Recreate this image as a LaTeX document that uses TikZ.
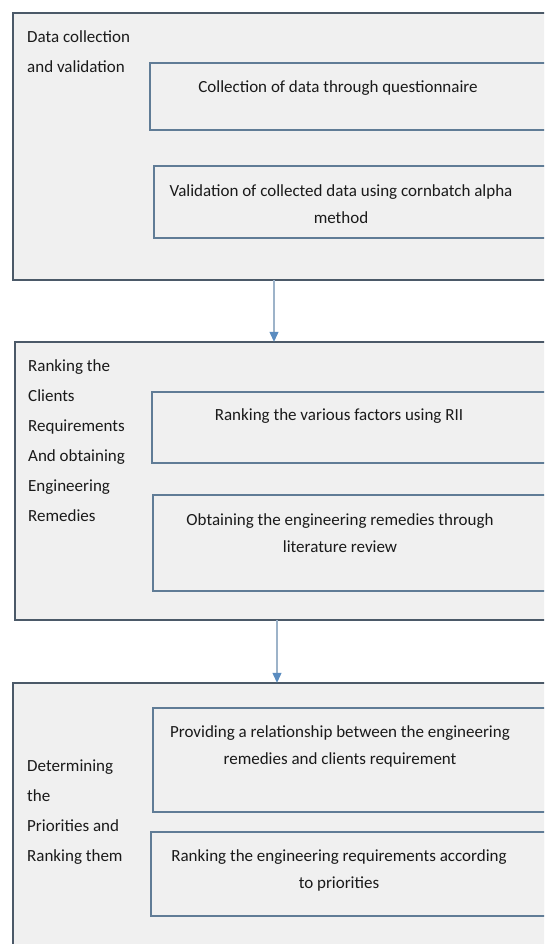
\documentclass[tikz,border=0pt]{standalone}
\usepackage{fontspec}
\setmainfont{Carlito}
\usetikzlibrary{arrows.meta}
\definecolor{boxfill}{HTML}{F0F0F0}
\definecolor{outerline}{HTML}{4B5968}
\definecolor{innerline}{HTML}{607C96}
\definecolor{arrline}{HTML}{9DB3C9}
\definecolor{arrhead}{HTML}{5A8CC0}
\definecolor{txt}{HTML}{1A1A1A}
\tikzset{
  outerbox/.style={draw=outerline, line width=1.8pt, fill=boxfill},
  innerbox/.style={draw=innerline, line width=1.6pt, fill=boxfill},
  boxtext/.style={align=center, inner sep=0pt, font=\fontsize{17}{27}\selectfont, text=txt},
  sidelabel/.style={align=left, anchor=north west, inner sep=0pt, font=\fontsize{17}{30}\selectfont, text=txt},
  flowarrow/.style={draw=arrline, line width=1.1pt, -{Triangle[length=10pt,width=9pt,color=arrhead]}}
}
\begin{document}
\begin{tikzpicture}[x=1pt,y=-1pt]
\useasboundingbox (0,0) rectangle (544,944);
\clip (0,0) rectangle (544,944);
\fill[white] (0,0) rectangle (544,944);
% stage 1
\draw[outerbox] (13,13) rectangle (562,280);
\node[inner sep=0pt] (o1) at (287.5,146.5) [minimum width=549pt, minimum height=267pt] {};
\draw[innerbox] (150,63) rectangle (558,130);
\draw[innerbox] (154,166) rectangle (558,238);
\node[boxtext] (t1a) at (338,88) {Collection of data through questionnaire};
\node[boxtext] (t1b) at (341,204) {Validation of collected data using cornbatch alpha\\method};
\node[sidelabel] (l1) at (27,30) {Data collection\\and validation};
% stage 2
\draw[outerbox] (15,342) rectangle (562,620);
\node[inner sep=0pt] (o2) at (288.5,481) [minimum width=547pt, minimum height=278pt] {};
\draw[innerbox] (152,392) rectangle (558,463);
\draw[innerbox] (153,495) rectangle (558,591);
\node[boxtext] (t2a) at (339,416) {Ranking the various factors using RII};
\node[boxtext] (t2b) at (340,533) {Obtaining the engineering remedies through\\literature review};
\node[sidelabel] (l2) at (28,359) {Ranking the\\Clients\\Requirements\\And obtaining\\Engineering\\Remedies};
% stage 3
\draw[outerbox] (13,683) rectangle (562,970);
\node[inner sep=0pt] (o3) at (287.5,826.5) [minimum width=549pt, minimum height=287pt] {};
\draw[innerbox] (153,708) rectangle (558,812);
\draw[innerbox] (151,832) rectangle (558,916);
\node[boxtext] (t3a) at (340,746) {Providing a relationship between the engineering\\remedies and clients requirement};
\node[boxtext] (t3b) at (339,870) {Ranking the engineering requirements according\\to priorities};
\node[sidelabel] (l3) at (27,760) {Determining\\the\\Priorities and\\Ranking them};
% connectors
\coordinate (c1) at (274,0);
\coordinate (c2) at (277,0);
\draw[flowarrow] (o1.south -| c1) -- (o2.north -| c1);
\draw[flowarrow] (o2.south -| c2) -- (o3.north -| c2);
\end{tikzpicture}
\end{document}
